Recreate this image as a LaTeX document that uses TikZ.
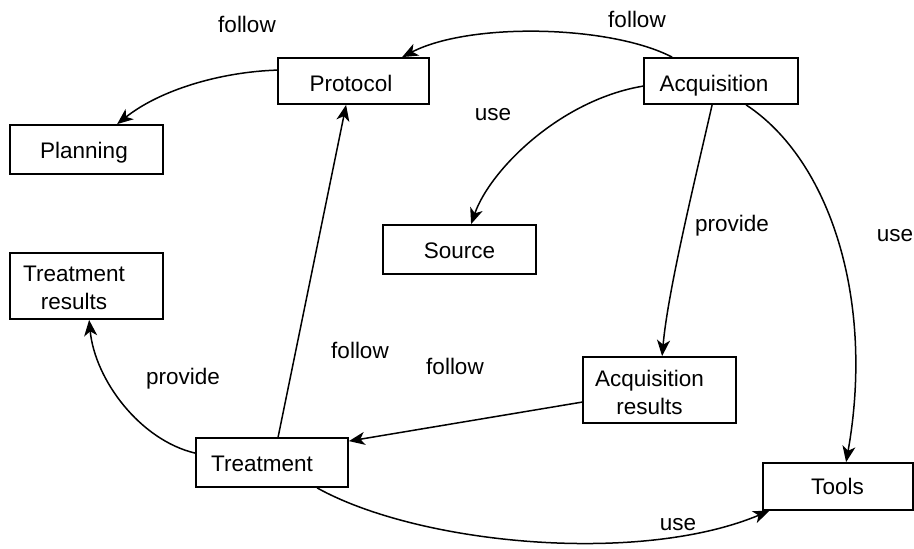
\documentclass[tikz,border=0pt]{standalone}
\usepackage{fontspec}
\setmainfont{Liberation Sans}
\usetikzlibrary{arrows.meta}
\begin{document}
\begin{tikzpicture}[x=1pt,y=-1pt,
  box/.style={draw, line width=1.8pt, inner sep=0pt, minimum width=153pt, minimum height=48pt},
  tall/.style={minimum height=66pt},
  conn/.style={line width=1.5pt, -{Stealth[length=16pt,width=13pt,inset=4.5pt]}},
  lbl/.style={font=\fontsize{22.5}{28}\selectfont, anchor=base, inner sep=0pt},
  every label/.style={font=\fontsize{22.5}{28}\selectfont, inner sep=0pt, align=center, anchor=center}
]
\useasboundingbox (0,0) rectangle (914,549);
% boxes
\node[box, minimum width=151pt, minimum height=46pt, label={[xshift=-2.5pt,yshift=-2.8pt]center:Protocol}] (prot) at (353.5,81) {};
\node[box, minimum width=154pt, minimum height=46pt, label={[xshift=-7pt,yshift=-5pt]center:Acquisition}] (acq) at (721,81) {};
\node[box, minimum height=49pt, label={[xshift=-2.5pt,yshift=-3.6pt]center:Planning}] (plan) at (86.5,149.5) {};
\node[box, minimum height=49pt, label={[yshift=-1.3pt]center:Source}] (src) at (459.5,249.5) {};
\node[box, tall, label={[xshift=-12.5pt,yshift=-2pt]center:Treatment\\results}] (tres) at (86.5,286) {};
\node[box, tall, label={[xshift=-10pt,yshift=-2pt]center:Acquisition\\results}] (ares) at (659.5,390) {};
\node[box, minimum width=152pt, minimum height=49pt, label={[xshift=-10pt,yshift=-1.3pt]center:Treatment}] (treat) at (272,462.5) {};
\node[box, minimum width=150pt, minimum height=47pt, label={[xshift=-0.5pt,yshift=-0.3pt]center:Tools}] (tools) at (838,486.5) {};
% connectors
\draw[conn] ([xshift=29pt]acq.north west) .. controls (610,25) and (470,22) .. ([xshift=125pt]prot.north west);
\draw[conn] ([yshift=-13pt]prot.north west) .. controls (220,72) and (160,90) .. ([xshift=108pt]plan.north west);
\draw[conn] ([yshift=-29pt]acq.north west) .. controls (560,100) and (490,170) .. ([xshift=89pt]src.north west);
\draw[conn] ([xshift=69pt]acq.south west) .. controls (695,180) and (668,290) .. ([xshift=80pt]ares.north west);
\draw[conn] ([xshift=103pt]acq.south west) .. controls (830,160) and (875,300) .. ([xshift=84pt]tools.north west);
\draw[conn] ([yshift=-46pt]ares.north west) -- ([yshift=-4pt]treat.north east);
\draw[conn] ([xshift=83pt]treat.north west) -- ([xshift=69pt]prot.south west);
\draw[conn] ([yshift=-16pt]treat.north west) .. controls (140,440) and (95,380) .. ([xshift=80pt]tres.south west);
\draw[conn] ([xshift=122pt]treat.south west) .. controls (420,545) and (640,565) .. ([xshift=7pt]tools.south west);
% edge labels
\node[lbl] (l1) at (247,32) {follow};
\node[lbl] (l2) at (637,27) {follow};
\node[lbl] (l3) at (493,120) {use};
\node[lbl] (l4) at (732,231) {provide};
\node[lbl] (l5) at (895,241) {use};
\node[lbl] (l6) at (360,358) {follow};
\node[lbl] (l7) at (455,374) {follow};
\node[lbl] (l8) at (183,384) {provide};
\node[lbl] (l9) at (678,530) {use};
\end{tikzpicture}
\end{document}
